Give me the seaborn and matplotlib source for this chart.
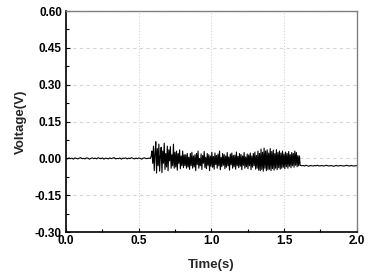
import numpy as np
import pandas as pd
import matplotlib
matplotlib.use('Agg')
import matplotlib.pyplot as plt
import seaborn as sns
from matplotlib.ticker import MultipleLocator

# quiet baseline before the event (read ~every 0.01 s)
pre_t = (0.0, 0.58)
pre_v = [0.000, -0.002, 0.002, -0.001, 0.001, -0.003, 0.002, 0.000, -0.002, 0.001,
         0.003, -0.001, 0.000, -0.002, 0.002, 0.001, -0.003, 0.000, 0.002, -0.001,
         0.001, -0.002, 0.003, 0.000, -0.001, 0.002, -0.003, 0.001, 0.000, -0.002,
         0.002, -0.001, 0.001, 0.003, -0.002, 0.000, -0.001, 0.002, -0.003, 0.001,
         0.000, 0.002, -0.002, 0.001, -0.001, 0.003, 0.000, -0.002, 0.001, -0.001,
         0.002, 0.000, -0.003, 0.001, 0.002, -0.001, 0.000, 0.001, 0.000]

# burst between ~0.58 s and ~1.61 s
burst_t = (0.585, 1.605)
burst_v = [0.010, 0.030, -0.020, 0.050, -0.050, 0.020, 0.068, -0.060, 0.040, -0.030,
           0.058, -0.052, 0.010, 0.045, -0.058, 0.030, -0.020, 0.062, -0.045, 0.020,
           -0.035, 0.050, -0.050, 0.035, -0.010, 0.048, -0.040, 0.015, -0.030, 0.058,
           -0.040, 0.025, -0.035, 0.030, -0.048, 0.020, -0.020, 0.035, -0.042, 0.010,
           -0.030, 0.030, -0.038, 0.015,
           -0.030, 0.015, -0.040, 0.020, -0.035, 0.005, -0.045, 0.020, -0.030, 0.025,
           -0.040, 0.010, -0.035, 0.015, -0.050, 0.020, -0.025, 0.030, -0.040, 0.000,
           -0.030, 0.018, -0.045, 0.012, -0.020, 0.028, -0.038, 0.005, -0.042, 0.020,
           -0.028, 0.015, -0.050, 0.010, -0.032, 0.025, -0.036, 0.008, -0.044, 0.022,
           -0.025, 0.012, -0.040, 0.018, -0.030, 0.030, -0.046, 0.004, -0.034, 0.020,
           -0.028, 0.016, -0.042, 0.010, -0.036, 0.024, -0.030, 0.006, -0.048, 0.018,
           -0.026, 0.022, -0.040, 0.012, -0.034, 0.014, -0.044, 0.026, -0.030, 0.008,
           -0.038, 0.020, -0.032, 0.016, -0.046, 0.010, -0.028, 0.024, -0.040, 0.006,
           -0.034, 0.018, -0.042, 0.014, -0.030, 0.022, -0.046, 0.010, -0.036, 0.020,
           -0.030, 0.026, -0.044, 0.012,
           -0.040, 0.030, -0.048, 0.020, -0.050, 0.038, -0.045, 0.025, -0.052, 0.042,
           -0.040, 0.030, -0.050, 0.035, -0.046, 0.022, -0.044, 0.040, -0.050, 0.028,
           -0.042, 0.034, -0.048, 0.020, -0.040, 0.036, -0.046, 0.024, -0.038, 0.030,
           -0.044, 0.022, -0.040, 0.030, -0.036, 0.018, -0.042, 0.026, -0.034, 0.020,
           -0.040, 0.028, -0.032, 0.016, -0.038, 0.024, -0.030, 0.020, -0.036, 0.030,
           -0.028, 0.024, -0.034, 0.012, -0.030, 0.010]

# flat tail after the event
post_t = (1.61, 2.0)
post_v = [-0.028, -0.030, -0.029, -0.031, -0.028, -0.030, -0.032, -0.029, -0.030, -0.031,
          -0.029, -0.030, -0.028, -0.031, -0.030, -0.029, -0.031, -0.030, -0.028, -0.030,
          -0.031, -0.029, -0.030, -0.032, -0.030, -0.029, -0.031, -0.030, -0.029, -0.030,
          -0.031, -0.030, -0.028, -0.030, -0.031, -0.029, -0.030, -0.031, -0.030, -0.030]

segments = []
for (t0, t1), vals in [(pre_t, pre_v), (burst_t, burst_v), (post_t, post_v)]:
    segments.append(pd.DataFrame({'t': np.linspace(t0, t1, len(vals)), 'v': vals}))
df = pd.concat(segments, ignore_index=True)

sns.set_theme(style='white')
plt.rcParams['font.family'] = ['Liberation Sans', 'DejaVu Sans']
plt.rcParams['font.weight'] = 'bold'

fig = plt.figure(figsize=(3.78, 2.75), dpi=100)
ax = fig.add_axes([0.175, 0.156, 0.769, 0.804])

sns.lineplot(data=df, x='t', y='v', ax=ax, color='black', linewidth=0.8, estimator=None, sort=False)

ax.set_xlim(0, 2.0)
ax.set_ylim(-0.30, 0.60)
ax.xaxis.set_major_locator(MultipleLocator(0.5))
ax.xaxis.set_minor_locator(MultipleLocator(0.25))
ax.yaxis.set_major_locator(MultipleLocator(0.15))
ax.yaxis.set_minor_locator(MultipleLocator(0.075))
ax.set_xticklabels([f'{x:.1f}' for x in ax.get_xticks()])
ax.set_yticklabels([f'{y:.2f}' for y in ax.get_yticks()])

ax.grid(True, axis='x', which='major', color='#d6d6d6', linestyle=':', linewidth=0.8)
ax.grid(True, axis='y', which='major', color='#d6d6d6', linestyle='--', linewidth=0.8, dashes=(3, 3))
ax.set_axisbelow(True)

for side in ['left', 'bottom']:
    ax.spines[side].set_color('black')
    ax.spines[side].set_linewidth(1.2)
for side in ['top', 'right']:
    ax.spines[side].set_color('#808080')
    ax.spines[side].set_linewidth(1.0)

ax.tick_params(which='both', direction='in', labelsize=8.5, colors='black', width=0.8)
ax.tick_params(which='major', length=3)
ax.tick_params(which='minor', length=2)
ax.tick_params(axis='both', which='both', top=False, right=False, left=True, bottom=True)
ax.tick_params(axis='x', pad=2)
ax.tick_params(axis='y', pad=3)

ax.set_xlabel('Time(s)', fontsize=9.5, fontweight='bold', labelpad=9)
ax.set_ylabel('Voltage(V)', fontsize=9.5, fontweight='bold', labelpad=6)

fig.savefig('out.png', dpi=100)
